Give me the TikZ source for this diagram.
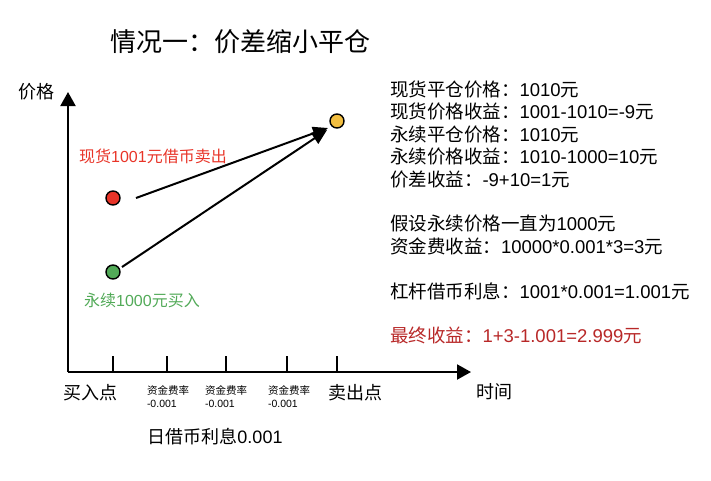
\documentclass[tikz,border=0pt]{standalone}
\usepackage{fontspec}
\setmainfont{Liberation Sans}
\newfontfamily\cjk{Noto Sans CJK SC}
\newcommand\zw[1]{{\cjk #1}}
\usetikzlibrary{arrows.meta}
\definecolor{spotred}{RGB}{232,52,40}
\definecolor{perpgreen}{RGB}{82,170,88}
\definecolor{sellyellow}{RGB}{242,190,64}
\definecolor{finalred}{RGB}{184,40,40}
\tikzset{dot/.style={circle, draw, line width=1.4pt, minimum size=14pt, inner sep=0pt},
  txt/.style={inner sep=0pt, font=\fontsize{18}{22}\selectfont},
  calc/.style={inner sep=0pt, anchor=base west, font=\fontsize{18.5}{22}\selectfont},
  small/.style={inner sep=0pt, anchor=base west, font=\fontsize{10.5}{12}\selectfont}}

\begin{document}
\begin{tikzpicture}[x=1pt, y=-1pt]
\tikzstyle{every path}=[line width=2pt]
\tikzstyle{tip}=[-{Triangle[length=15pt,width=13pt]}]
\useasboundingbox (0,0) rectangle (711,480);
\node[txt, anchor=base, font=\fontsize{26}{29}\selectfont] (title) at (240,51) {\zw{情况一：价差缩小平仓}};
% axes
\coordinate (o) at (68,372);
\coordinate (ytop) at (68,92);
\coordinate (xend) at (471,372);
\draw[-{Triangle[length=14pt,width=15pt]}] (o) -- (ytop);
\draw[-{Triangle[length=14pt,width=15pt]}] (o) -- (xend);
\node[txt, anchor=base] (price) at (36,98.5) {\zw{价格}};
\node[txt, anchor=base] (time) at (494,398.5) {\zw{时间}};
\foreach \x/\n in {113/t1,167/t2,226/t3,287/t4,337/t5}
  \draw (\x,356) coordinate (\n) -- (\x,372);
\node[txt, anchor=base] (buy) at (90,399.5) {\zw{买入点}};
\node[txt, anchor=base] (sell) at (355,399.5) {\zw{卖出点}};
\foreach \x/\n in {146/a,204/b,267/c}{
  \node[small] (fee\n) at (\x,394) {\zw{资金费率}};
  \node[small] (val\n) at (\x,407) {-0.001};
}
\node[txt, anchor=base] (loan) at (215,443.5) {\zw{日借币利息}0.001};
% points
\node[dot, fill=spotred] (spot) at (113,198) {};
\node[dot, fill=perpgreen] (perp) at (113,272) {};
\node[dot, fill=sellyellow] (close) at (337,121) {};
\node[txt, anchor=base, text=spotred, font=\fontsize{16}{18}\selectfont] (spotlbl) at (153,162) {\zw{现货}1001\zw{元借币卖出}};
\node[txt, anchor=base, text=perpgreen, font=\fontsize{16}{18}\selectfont] (perplbl) at (142,306) {\zw{永续}1000\zw{元买入}};
\coordinate (s1) at (136,198);
\coordinate (s2) at (122,267);
\coordinate (e1) at (328,128);
\coordinate (e2) at (327,130);
\draw[tip] (s1) -- (e1);
\draw[tip] (s2) -- (e2);
% calculation
\node[calc] (r1) at (389,96.5) {\zw{现货平仓价格：}1010\zw{元}};
\node[calc] (r2) at (389,118.9) {\zw{现货价格收益：}1001-1010=-9\zw{元}};
\node[calc] (r3) at (389,141.3) {\zw{永续平仓价格：}1010\zw{元}};
\node[calc] (r4) at (389,163.7) {\zw{永续价格收益：}1010-1000=10\zw{元}};
\node[calc] (r5) at (389,186.1) {\zw{价差收益：}-9+10=1\zw{元}};
\node[calc] (r6) at (389,230.9) {\zw{假设永续价格一直为}1000\zw{元}};
\node[calc] (r7) at (389,253.3) {\zw{资金费收益：}10000*0.001*3=3\zw{元}};
\node[calc] (r8) at (389,298.1) {\zw{杠杆借币利息：}1001*0.001=1.001\zw{元}};
\node[calc, text=finalred] (r9) at (389,342.9) {\zw{最终收益：}1+3-1.001=2.999\zw{元}};
\end{tikzpicture}
\end{document}
